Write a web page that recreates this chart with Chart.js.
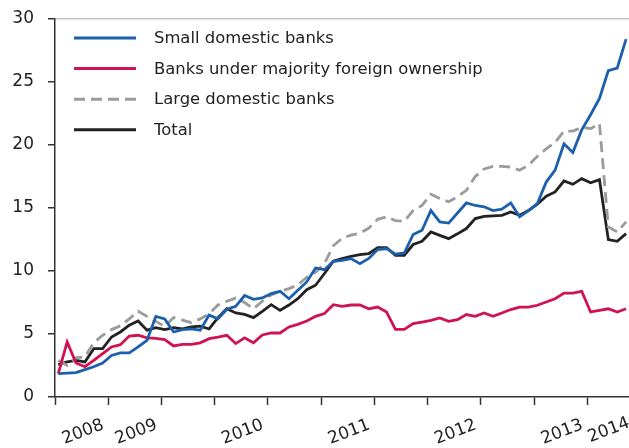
<!DOCTYPE html>
<html>
<head>
<meta charset="utf-8">
<script src="https://cdn.jsdelivr.net/npm/chart.js@4.4.1/dist/chart.umd.min.js"></script>
<style>
  html, body { margin: 0; padding: 0; background: #fff; }
</style>
</head>
<body>
<canvas id="lendingChart" width="629" height="448"></canvas>
<script>
// series names (legend order)
const seriesNames = [
  'Small domestic banks',
  'Banks under majority foreign ownership',
  'Large domestic banks',
  'Total'
];

// monthly values, per cent
const smallBanks = [1.86, 1.9, 1.94, 2.17, 2.4, 2.7, 3.3, 3.5, 3.5, 3.97, 4.5, 6.4, 6.2, 5.16, 5.35, 5.4, 5.3, 6.5, 6.2, 6.96,
  7.2, 8.05, 7.75, 7.86, 8.2, 8.39, 7.8, 8.47, 9.13, 10.24, 10.1, 10.77, 10.85, 10.98, 10.58, 11.0, 11.7, 11.78, 11.33, 11.43,
  12.9, 13.23, 14.8, 13.9, 13.8, 14.6, 15.4, 15.2, 15.1, 14.8, 14.9, 15.4, 14.3, 14.8, 15.35, 17.06, 18.0, 20.1, 19.4, 21.2,
  22.4, 23.7, 25.9, 26.1, 28.4];
const foreignBanks = [1.86, 4.37, 2.7, 2.4, 2.9, 3.44, 3.97, 4.15, 4.84, 4.9, 4.7, 4.65, 4.55, 4.05, 4.18, 4.18, 4.3, 4.63, 4.75, 4.9,
  4.24, 4.7, 4.3, 4.92, 5.08, 5.08, 5.56, 5.77, 6.03, 6.4, 6.62, 7.33, 7.2, 7.3, 7.3, 7.0, 7.14, 6.75, 5.37, 5.37,
  5.82, 5.95, 6.09, 6.27, 6.0, 6.14, 6.54, 6.4, 6.67, 6.4, 6.67, 6.94, 7.14, 7.14, 7.28, 7.54, 7.8, 8.25, 8.25, 8.39,
  6.75, 6.88, 7.0, 6.75, 7.0];
const largeBanks = [2.9, 2.5, 3.1, 3.2, 4.3, 4.9, 5.35, 5.65, 6.2, 6.8, 6.4, 6.0, 5.6, 6.3, 6.1, 5.9, 6.2, 6.6, 7.3, 7.6,
  7.85, 7.5, 7.0, 7.6, 8.1, 8.4, 8.6, 8.9, 9.5, 9.9, 10.6, 12.0, 12.6, 12.85, 13.0, 13.4, 14.1, 14.3, 14.0, 13.95,
  14.8, 15.2, 16.1, 15.75, 15.5, 15.9, 16.4, 17.5, 18.1, 18.3, 18.3, 18.25, 18.0, 18.4, 19.1, 19.7, 20.2, 21.1, 21.1, 21.4,
  21.3, 21.7, 13.5, 13.1, 13.9];
const total = [2.57, 2.78, 2.9, 2.78, 3.84, 3.84, 4.76, 5.16, 5.7, 6.03, 5.3, 5.5, 5.35, 5.5, 5.4, 5.56, 5.63, 5.4, 6.3, 7.0,
  6.67, 6.55, 6.3, 6.8, 7.33, 6.88, 7.3, 7.8, 8.52, 8.87, 9.8, 10.77, 10.98, 11.17, 11.3, 11.38, 11.86, 11.86, 11.25, 11.25,
  12.1, 12.36, 13.1, 12.83, 12.57, 12.95, 13.37, 14.16, 14.34, 14.38, 14.42, 14.68, 14.42, 14.8, 15.3, 15.93, 16.27, 17.14, 16.88, 17.33,
  17.0, 17.25, 12.49, 12.36, 12.97];

// x axis: months counted from the first tick mark
const firstPoint = 0.37;
const axisEnd = 64.7;
const tickMonths = [0, 6, 12, 18, 24, 30, 36, 42, 48, 54, 60];
const yearLabels = { 6: '2008', 12: '2009', 24: '2010', 36: '2011', 48: '2012', 60: '2013' };
const lastLabel = '2014';
const yTickStep = 5;

const colors = ['#1c5fac', '#d0124f', '#9b9b9b', '#222222'];
const tickFont = { family: 'DejaVu Sans', size: 17 };

const toPoints = arr => arr.map((v, i) => ({ x: firstPoint + i, y: v }));

const makeSet = (k, values, dash) => ({
  label: seriesNames[k],
  data: toPoints(values),
  borderColor: colors[k],
  backgroundColor: colors[k],
  borderWidth: 2.8,
  borderDash: dash || [],
  pointRadius: 0,
  tension: 0,
  fill: false
});

// legend drawn in the top-left corner of the plot
const cornerLegend = {
  id: 'cornerLegend',
  afterDraw(chart) {
    const ctx = chart.ctx;
    ctx.save();
    chart.data.datasets.forEach((ds, k) => {
      const y = 38 + k * 30.6;
      ctx.strokeStyle = ds.borderColor;
      ctx.lineWidth = 3;
      ctx.setLineDash(ds.borderDash);
      ctx.beginPath();
      ctx.moveTo(74, y);
      ctx.lineTo(136, y);
      ctx.stroke();
      ctx.setLineDash([]);
      ctx.fillStyle = '#222';
      ctx.font = '16.4px "DejaVu Sans"';
      ctx.textBaseline = 'middle';
      ctx.fillText(ds.label, 154, y + 1);
    });
    ctx.restore();
  }
};

const ctx = document.getElementById('lendingChart').getContext('2d');
new Chart(ctx, {
  type: 'line',
  data: {
    datasets: [
      makeSet(0, smallBanks),
      makeSet(1, foreignBanks),
      makeSet(2, largeBanks, [11, 6]),
      makeSet(3, total)
    ]
  },
  options: {
    responsive: false,
    animation: false,
    layout: { padding: { top: 19, right: 0, left: 0, bottom: 0 } },
    plugins: {
      legend: { display: false },
      tooltip: { enabled: false }
    },
    scales: {
      x: {
        type: 'linear',
        min: 0,
        max: axisEnd,
        afterBuildTicks: axis => {
          axis.ticks = tickMonths.map(v => ({ value: v })).concat([{ value: axisEnd }]);
        },
        afterFit: axis => {
          axis.height = 51;
          axis.paddingLeft = 0;
          axis.paddingRight = 0;
        },
        grid: {
          drawOnChartArea: false,
          tickLength: 8,
          tickWidth: 1.5,
          tickColor: c => (c.tick && c.tick.value === axisEnd) ? 'rgba(0,0,0,0)' : '#333'
        },
        border: { color: '#333', width: 1.5 },
        ticks: {
          autoSkip: false,
          minRotation: 21,
          maxRotation: 21,
          padding: 8,
          color: '#222',
          font: tickFont,
          // trailing space keeps the rotated year just left of its tick, as in the original
          callback: v => v === axisEnd ? lastLabel : (yearLabels[v] ? yearLabels[v] + ' ' : '')
        }
      },
      y: {
        min: 0,
        max: 30,
        afterFit: axis => {
          axis.width = 55;
          axis.paddingTop = 0;
          axis.paddingBottom = 0;
        },
        grid: {
          color: c => (c.tick && c.tick.value === 30) ? '#c6c6c6' : 'rgba(0,0,0,0)',
          lineWidth: 1.5,
          tickLength: 7,
          tickWidth: 1.5,
          tickColor: '#333'
        },
        border: { color: '#333', width: 1.5 },
        ticks: {
          stepSize: yTickStep,
          padding: 14,
          color: '#222',
          font: tickFont
        }
      }
    }
  },
  plugins: [cornerLegend]
});
</script>
</body>
</html>
